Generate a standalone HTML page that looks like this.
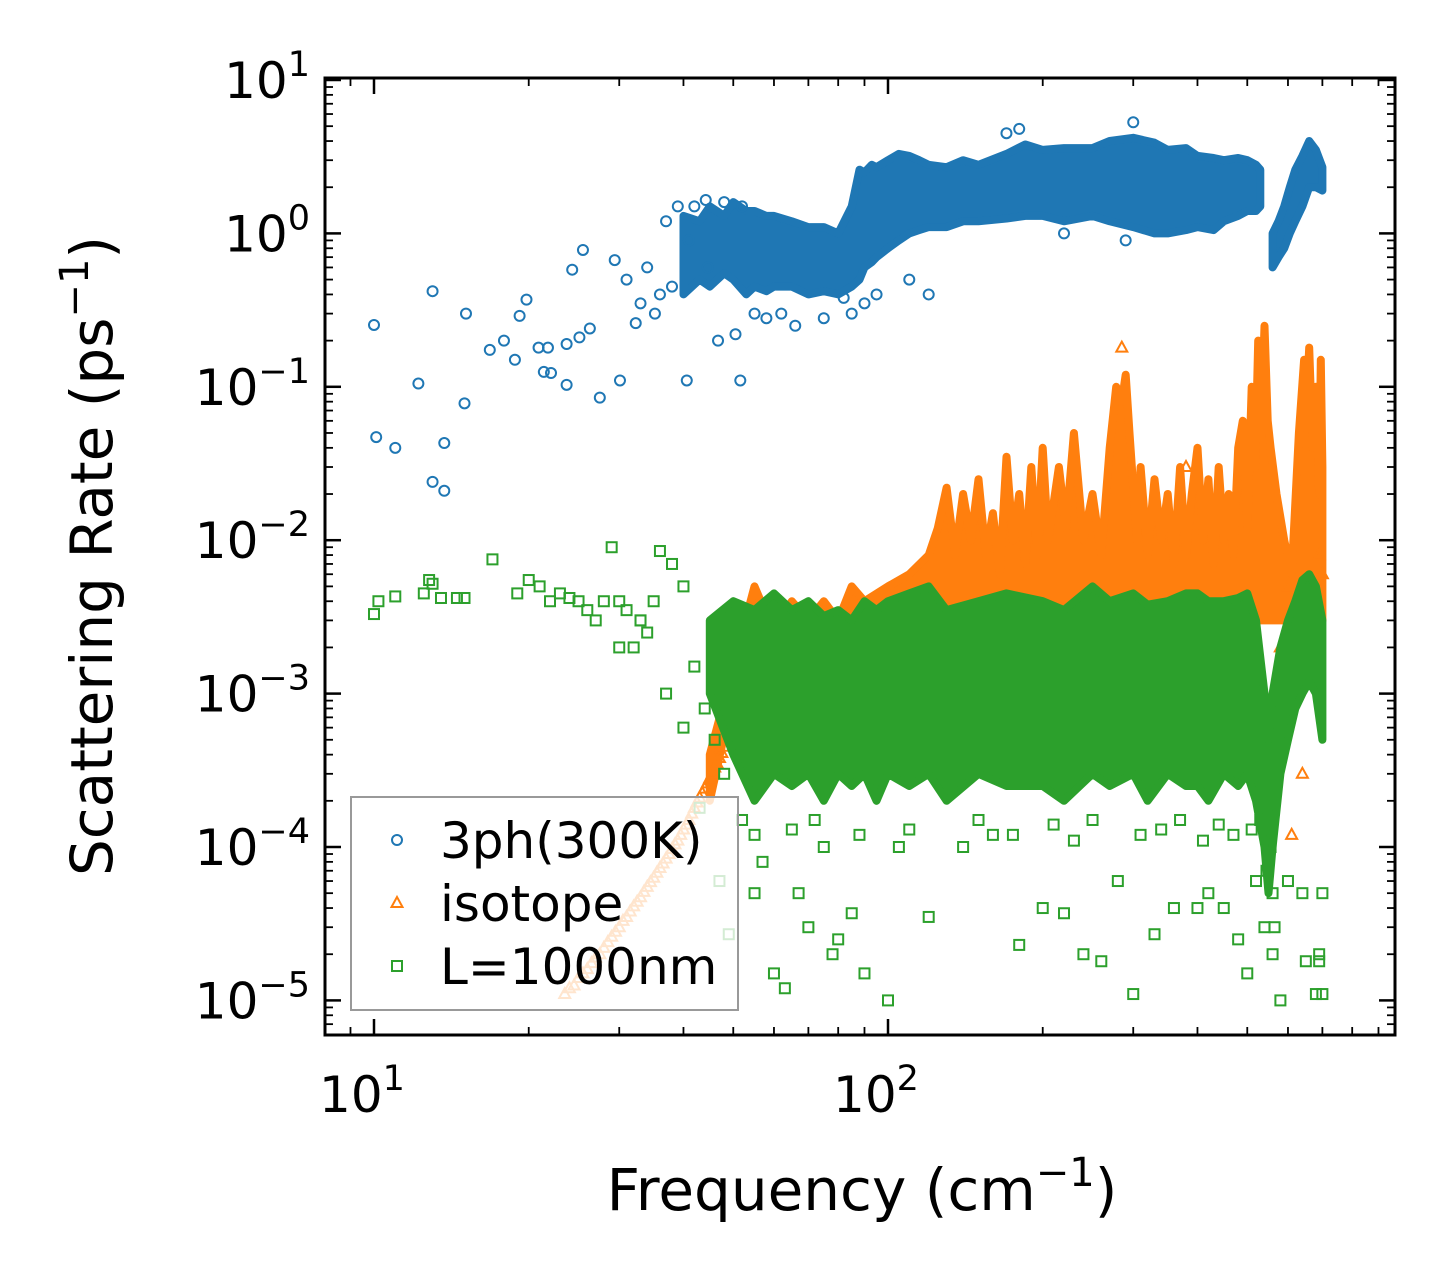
<!DOCTYPE html>
<html><head><meta charset="utf-8"><style>
html,body{margin:0;padding:0;background:#fff;}
svg{display:block;font-family:"DejaVu Sans","Liberation Sans",sans-serif;}
</style></head><body>
<svg id="chart" width="1455" height="1285" viewBox="0 0 1455 1285" xmlns="http://www.w3.org/2000/svg">
<rect width="1455" height="1285" fill="#fff"/>
<defs><clipPath id="clip"><rect x="325" y="78" width="1070" height="957"/></clipPath></defs>
<g id="plot" clip-path="url(#clip)"></g>
<g id="axes"></g>
<text x="862" y="1210" font-size="58" text-anchor="middle">Frequency (cm<tspan font-size="40" dy="-24">−1</tspan><tspan dy="24">)</tspan></text>
<text transform="translate(112,556) rotate(-90)" font-size="58" text-anchor="middle">Scattering Rate (ps<tspan font-size="40" dy="-24">−1</tspan><tspan dy="24">)</tspan></text>
</svg>
<script>
// ---- data ----
const blueBandX = [40,43,45,48,50,53,55,58,60,65,70,75,80,85,88,90,93,95,100,105,110,115,120,130,140,150,170,185,200,220,250,270,300,330,350,380,400,430,450,480,500,520,530];
const blueBandLow = [0.4,0.5,0.45,0.55,0.5,0.4,0.45,0.42,0.45,0.45,0.4,0.42,0.4,0.45,0.5,0.6,0.65,0.7,0.8,0.9,1.0,1.05,1.1,1.1,1.2,1.2,1.25,1.3,1.3,1.2,1.3,1.2,1.1,1.0,1.0,1.05,1.1,1.05,1.2,1.3,1.4,1.4,1.5];
const blueBandHigh = [1.3,1.2,1.5,1.3,1.6,1.4,1.4,1.3,1.3,1.2,1.1,1.1,1.0,1.5,2.6,2.5,2.8,2.7,3.0,3.3,3.2,3.0,2.8,2.7,3.0,2.8,3.3,3.8,3.5,3.6,3.6,4.0,4.2,3.9,3.5,3.6,3.2,3.1,3.0,3.1,3.0,2.8,2.6];
const blueBand2X = [560,575,590,605,620,640,660,680,700];
const blueBand2Low = [0.6,0.7,0.8,1.0,1.2,1.5,2.0,2.0,1.9];
const blueBand2High = [1.0,1.2,1.5,2.0,2.6,3.2,4.0,3.5,2.7];
const blueX = [10,10.1,11.0,12.2,13.0,13.0,13.7,13.7,15.1,15.0,16.8,17.9,18.8,19.2,19.8,20.9,21.4,21.8,22.1,23.7,23.7,24.3,25.1,25.5,26.3,27.5,29.4,30.1,32.3,35.2,40.6,44.2,44.6,46.7,50.5,51.6,36,38,33,31,34,42,55,58,62,66,75,85,82,39,37,41,48,52,90,95,110,120,180,300,290,170,220];
const blueY = [0.253,0.047,0.040,0.105,0.42,0.024,0.043,0.021,0.30,0.078,0.174,0.20,0.15,0.29,0.37,0.18,0.125,0.18,0.123,0.103,0.19,0.58,0.21,0.78,0.24,0.085,0.67,0.11,0.26,0.3,0.11,1.65,0.6,0.2,0.22,0.11,0.4,0.45,0.35,0.5,0.6,1.5,0.3,0.28,0.3,0.25,0.28,0.3,0.38,1.5,1.2,0.9,1.6,1.5,0.35,0.4,0.5,0.4,4.8,5.3,0.9,4.5,1.0];
const orangeBandX = [45,50,55,60,65,70,75,80,85,90,100,110,120,125,130,135,140,145,150,155,160,165,170,175,180,185,190,195,200,205,215,222,230,240,250,260,270,278,285,290,295,305,310,320,330,340,350,360,370,380,390,400,410,420,430,440,450,460,470,480,490,500,510,518,525,532,540,548,555,570,590,610,630,645,650,660,670,680,690,695,700];
const orangeBandHigh = [4e-4,1.5e-3,5e-3,2.5e-3,4e-3,3e-3,4e-3,3e-3,5e-3,4e-3,5e-3,6e-3,8e-3,0.012,0.022,0.008,0.02,0.01,0.025,0.008,0.015,0.006,0.035,0.01,0.02,0.007,0.03,0.008,0.04,0.01,0.03,0.012,0.05,0.01,0.02,0.008,0.04,0.1,0.08,0.12,0.05,0.01,0.03,0.008,0.025,0.01,0.02,0.007,0.03,0.008,0.02,0.04,0.01,0.025,0.007,0.03,0.01,0.02,0.008,0.04,0.06,0.012,0.1,0.03,0.2,0.05,0.25,0.06,0.04,0.02,0.01,0.006,0.05,0.15,0.06,0.18,0.04,0.1,0.02,0.15,0.03];
const orangeBandLow = [2e-4,1e-3,1e-3,1e-3,1e-3,1e-3,1e-3,1e-3,1e-3,1e-3,1e-3,1e-3,2e-3,3e-3,3e-3,3e-3,3e-3,3e-3,3e-3,3e-3,3e-3,3e-3,3e-3,3e-3,3e-3,3e-3,3e-3,3e-3,3e-3,3e-3,3e-3,3e-3,3e-3,3e-3,3e-3,3e-3,3e-3,3e-3,3e-3,3e-3,3e-3,3e-3,3e-3,3e-3,3e-3,3e-3,3e-3,3e-3,3e-3,3e-3,3e-3,3e-3,3e-3,3e-3,3e-3,3e-3,3e-3,3e-3,3e-3,3e-3,3e-3,3e-3,3e-3,3e-3,3e-3,3e-3,3e-3,3e-3,3e-3,3e-3,3e-3,3e-3,3e-3,3e-3,3e-3,3e-3,3e-3,3e-3,3e-3,3e-3,3e-3];
const orangeX = [23.5,24,24.5,25,25.5,26,26.5,27,27.5,28,28.5,29,29.5,30,30.5,31,31.5,32,32.5,33,33.5,34,34.5,35,35.5,36,36.5,37,37.5,38,38.5,39,39.5,40,40.5,41,41.5,42,42.5,43,43.5,44,44.5,45,45.5,46,46.5,47,47.5,48,285,380,580,610,640,660,690,700,600,620];
const orangeY = [1.1e-5,1.2e-5,1.25e-5,1.4e-5,1.5e-5,1.6e-5,1.75e-5,1.9e-5,2.0e-5,2.2e-5,2.4e-5,2.6e-5,2.8e-5,3.0e-5,3.3e-5,3.5e-5,3.8e-5,4.1e-5,4.4e-5,4.7e-5,5.1e-5,5.5e-5,5.9e-5,6.3e-5,6.8e-5,7.3e-5,7.8e-5,8.4e-5,9.0e-5,9.7e-5,1.04e-4,1.1e-4,1.2e-4,1.3e-4,1.4e-4,1.5e-4,1.65e-4,1.8e-4,1.95e-4,2.1e-4,2.25e-4,2.4e-4,2.6e-4,2.8e-4,3.0e-4,3.3e-4,3.5e-4,3.8e-4,4.1e-4,4.5e-4,0.18,0.03,2e-3,1.2e-4,3e-4,2e-3,8e-3,6e-3,5e-3,3e-3];
const greenBandX = [45,50,55,60,65,70,75,80,85,90,95,100,110,120,130,150,170,200,220,250,270,300,320,350,380,400,420,450,480,500,520,540,550,560,580,600,620,640,660,680,700];
const greenBandHigh = [3e-3,4e-3,3.5e-3,4.5e-3,3.5e-3,4e-3,3.2e-3,3.5e-3,3e-3,4e-3,3.5e-3,4e-3,4.5e-3,5e-3,3.5e-3,4e-3,4.5e-3,4e-3,3.5e-3,5e-3,4e-3,4.5e-3,3.8e-3,4e-3,4.5e-3,4.5e-3,4e-3,4e-3,4.2e-3,4.5e-3,3e-3,1e-3,5e-4,1e-3,2e-3,3e-3,4e-3,5.5e-3,6e-3,5e-3,3e-3];
const greenBandLow = [1e-3,4e-4,2e-4,3e-4,2.5e-4,3e-4,2e-4,3e-4,2.5e-4,3e-4,2e-4,3e-4,2.5e-4,3e-4,2e-4,3e-4,2.5e-4,2.5e-4,2e-4,3e-4,2.5e-4,3e-4,2e-4,3e-4,2.5e-4,2.5e-4,2e-4,3e-4,2.5e-4,3e-4,2e-4,1e-4,5e-5,1e-4,3e-4,5e-4,8e-4,1e-3,1.2e-3,1e-3,5e-4];
const greenX = [10,10.2,11,12.5,13,13.5,14.5,15,17,19,20,21,22,23,24,25,26,27,28,29,30,31,32,33,34,35,36,38,40,42,44,46,48,12.8,30,33,37,40,43,47,49,52,55,57,60,63,67,70,75,78,80,85,90,100,105,120,160,180,200,220,240,260,280,300,330,360,400,420,450,480,500,520,540,560,580,600,640,650,680,690,700,560,565,690,700,55,65,72,88,110,140,150,175,210,230,250,310,340,370,410,440,470,510,530,545,555];
const greenY = [3.3e-3,4e-3,4.3e-3,4.5e-3,5.2e-3,4.2e-3,4.2e-3,4.2e-3,7.5e-3,4.5e-3,5.5e-3,5e-3,4e-3,4.5e-3,4.2e-3,4e-3,3.5e-3,3e-3,4e-3,9e-3,4e-3,3.5e-3,2e-3,3e-3,2.5e-3,4e-3,8.5e-3,7e-3,5e-3,1.5e-3,8e-4,5e-4,3e-4,5.5e-3,2e-3,3e-3,1e-3,6e-4,1.8e-4,6e-5,2.7e-5,1.5e-4,5e-5,8e-5,1.5e-5,1.2e-5,5e-5,3e-5,1e-4,2e-5,2.5e-5,3.7e-5,1.5e-5,1e-5,1e-4,3.5e-5,1.2e-4,2.3e-5,4e-5,3.7e-5,2e-5,1.8e-5,6e-5,1.1e-5,2.7e-5,4e-5,4e-5,5e-5,4e-5,2.5e-5,1.5e-5,6e-5,3e-5,2e-5,1e-5,6e-5,5e-5,1.8e-5,1.1e-5,1.8e-5,1.1e-5,5e-5,3e-5,2e-5,5e-5,1.2e-4,1.3e-4,1.5e-4,1.2e-4,1.3e-4,1e-4,1.5e-4,1.2e-4,1.4e-4,1.1e-4,1.5e-4,1.2e-4,1.3e-4,1.5e-4,1.1e-4,1.4e-4,1.2e-4,1.3e-4,1.5e-4,7e-5,1e-4];
const xTickValues = [10,100];
const xTickLabels = ["1","2"];
const yTickValues = [10,1,0.1,0.01,0.001,0.0001,0.00001];
const yTickLabels = ["1","0","−1","−2","−3","−4","−5"];

// ---- scales ----
const L=325,R=1395,T=78,B=1035;
function sx(v){return 374+(Math.log10(v)-1)*514;}
function sy(v){return 80+(1-Math.log10(v))*153.4;}
const NS="http://www.w3.org/2000/svg";
const plot=document.getElementById('plot'), axes=document.getElementById('axes');
function mk(tag,attrs,parent){const e=document.createElementNS(NS,tag);for(const k in attrs)e.setAttribute(k,attrs[k]);parent.appendChild(e);return e;}

function band(xs,lo,hi,color,name){
  let d='M'+xs.map((x,i)=>sx(x).toFixed(1)+','+sy(hi[i]).toFixed(1)).join('L');
  for(let i=xs.length-1;i>=0;i--) d+='L'+sx(xs[i]).toFixed(1)+','+sy(lo[i]).toFixed(1);
  const p=mk('path',{d:d+'Z',fill:color,stroke:color,'stroke-width':8,'stroke-linejoin':'round'},plot);
  
  
}
function marker(type,x,y,color,name){
  const cx=sx(x),cy=sy(y);let e;
  if(type==='o') e=mk('circle',{cx:cx,cy:cy,r:5,fill:'none',stroke:color,'stroke-width':2},plot);
  else if(type==='^') e=mk('path',{d:`M${cx},${cy-6}L${cx+5.5},${cy+4}L${cx-5.5},${cy+4}Z`,fill:'none',stroke:color,'stroke-width':2},plot);
  else e=mk('rect',{x:cx-5,y:cy-5,width:10,height:10,fill:'none',stroke:color,'stroke-width':2},plot);
  
  
}
const CB='#1f77b4',CO='#ff7f0e',CG='#2ca02c';
band(blueBandX,blueBandLow,blueBandHigh,CB,'3ph-dense-band');
band(blueBand2X,blueBand2Low,blueBand2High,CB,'3ph-dense-band-high-freq');
blueX.forEach((x,i)=>marker('o',x,blueY[i],CB,'3ph-point'));
band(orangeBandX,orangeBandLow,orangeBandHigh,CO,'isotope-dense-band');
orangeX.forEach((x,i)=>marker('^',x,orangeY[i],CO,'isotope-point'));
band(greenBandX,greenBandLow,greenBandHigh,CG,'boundary-dense-band');
greenX.forEach((x,i)=>marker('s',x,greenY[i],CG,'boundary-point'));

// ---- legend ----
const lg=mk('g',{},plot);


mk('rect',{x:351,y:797,width:387,height:213,fill:'rgba(255,255,255,0.8)',stroke:'#999','stroke-width':2},lg);
const entries=[['o',CB,'3ph(300K)',840],['^',CO,'isotope',903],['s',CG,'L=1000nm',966]];
entries.forEach(en=>{
  const g=mk('g',{},lg);
  
  
  const cx=397,cy=en[3];
  if(en[0]==='o') mk('circle',{cx:cx,cy:cy,r:5,fill:'none',stroke:en[1],'stroke-width':2},g);
  else if(en[0]==='^') mk('path',{d:`M${cx},${cy-6}L${cx+5.5},${cy+4}L${cx-5.5},${cy+4}Z`,fill:'none',stroke:en[1],'stroke-width':2},g);
  else mk('rect',{x:cx-5,y:cy-5,width:10,height:10,fill:'none',stroke:en[1],'stroke-width':2},g);
  const t=mk('text',{x:440,y:cy+18,'font-size':50},g);t.textContent=en[2];
});

// ---- axes ----
mk('rect',{x:L,y:T,width:R-L,height:B-T,fill:'none',stroke:'#000','stroke-width':3},axes);
function tick(x1,y1,x2,y2,w){mk('line',{x1:x1,y1:y1,x2:x2,y2:y2,stroke:'#000','stroke-width':w},axes);}
for(let k=0;k<3;k++)for(let m=1;m<10;m++){
  const v=m*Math.pow(10,k);const x=sx(v);if(x<L||x>R)continue;
  const len=m===1?16:8,w=m===1?2.5:1.8;
  tick(x,B,x,B-len,w);tick(x,T,x,T+len,w);
}
for(let k=-6;k<2;k++)for(let m=1;m<10;m++){
  const v=m*Math.pow(10,k);const y=sy(v);if(y<T||y>B)continue;
  const len=m===1?16:8,w=m===1?2.5:1.8;
  tick(L,y,L+len,y,w);tick(R,y,R-len,y,w);
}
xTickValues.forEach((v,i)=>{
  const t=mk('text',{x:sx(v)-12,y:1112,'font-size':50,'text-anchor':'middle'},axes);
  
  
  t.innerHTML='10<tspan font-size="35" dy="-22">'+xTickLabels[i]+'</tspan>';
});
yTickValues.forEach((v,i)=>{
  const t=mk('text',{x:310,y:sy(v)+18,'font-size':50,'text-anchor':'end'},axes);
  
  
  t.innerHTML='10<tspan font-size="35" dy="-22">'+yTickLabels[i]+'</tspan>';
});
</script>
</body></html>
